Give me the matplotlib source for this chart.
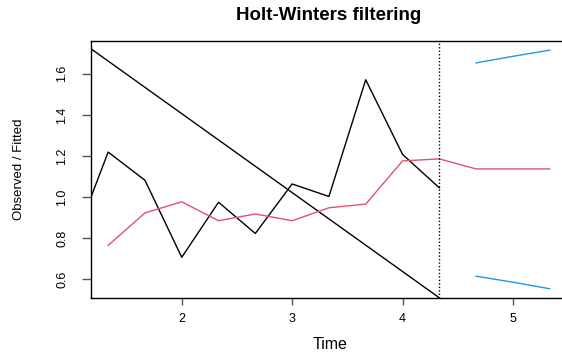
import matplotlib
matplotlib.use("Agg")
import matplotlib.pyplot as plt

# ---------------------------
# Data
# ---------------------------
obs_time = [1, 4/3, 5/3, 2, 7/3, 8/3, 3, 10/3, 11/3, 4, 13/3]
observed = [0.75, 1.219, 1.082, 0.707, 0.975, 0.823, 1.064, 1.003, 1.571, 1.208, 1.045]

fit_time = [4/3, 5/3, 2, 7/3, 8/3, 3, 10/3, 11/3, 4, 13/3]
fitted = [0.765, 0.923, 0.977, 0.885, 0.918, 0.885, 0.948, 0.966, 1.176, 1.186]

pred_time = [14/3, 5, 16/3]
predicted = [1.137, 1.137, 1.137]
upper = [1.653, 1.685, 1.715]
lower = [0.615, 0.586, 0.554]

trend_time = [1, 13/3]
trend = [1.79, 0.51]

split_time = 13/3

x_ticks = [2, 3, 4, 5]
y_ticks = [0.6, 0.8, 1.0, 1.2, 1.4, 1.6]

# ---------------------------
# Figure
# ---------------------------
W, H = 562, 358
fig = plt.figure(figsize=(W / 100, H / 100), dpi=100)
plt.rcParams['font.family'] = ['Liberation Sans', 'DejaVu Sans']

# plot region: left 91px, right beyond the picture, top 40.5px, bottom 298px
ax = fig.add_axes([91 / W, (H - 298) / H, (567 - 91) / W, (298 - 40.5) / H])
ax.set_xlim(1.178, 5.49)
ax.set_ylim(0.509, 1.762)

red = '#DF536B'
blue = '#2297E6'

ax.plot(obs_time, observed, color='black', lw=1)
ax.plot(trend_time, trend, color='black', lw=1)
ax.plot(fit_time + pred_time, fitted + predicted, color=red, lw=1)
ax.plot(pred_time, upper, color=blue, lw=1)
ax.plot(pred_time, lower, color=blue, lw=1)
ax.axvline(split_time, color='black', lw=1, ls=(0, (1, 1.5)))

for s in ax.spines.values():
    s.set_linewidth(1)
    s.set_color('black')

ax.set_xticks(x_ticks)
ax.set_xticklabels([str(v) for v in x_ticks])
ax.set_yticks(y_ticks)
ax.set_yticklabels([f'{v:.1f}' for v in y_ticks])
ax.tick_params(axis='x', length=6.7 * 0.72, width=1, color='#555555', pad=6, labelsize=9)
ax.tick_params(axis='y', length=9.5 * 0.72, width=1, color='#555555', pad=9.5, labelsize=9)
for lab in ax.get_yticklabels():
    lab.set_rotation(90)
    lab.set_va('center')
    lab.set_family(['Liberation Sans Narrow', 'Liberation Sans'])

fig.text(329 / W, 1 - 20 / H, 'Holt-Winters filtering', ha='center', va='baseline',
         fontsize=13.5, fontweight='bold')
fig.text(330 / W, 1 - 349.3 / H, 'Time', ha='center', va='baseline', fontsize=11.5)
fig.text(18.8 / W, 1 - 169 / H, 'Observed / Fitted', ha='center', va='center',
         rotation=90, fontsize=9.5, family=['Liberation Sans Narrow', 'Liberation Sans'])

fig.savefig('out.png', dpi=100)
